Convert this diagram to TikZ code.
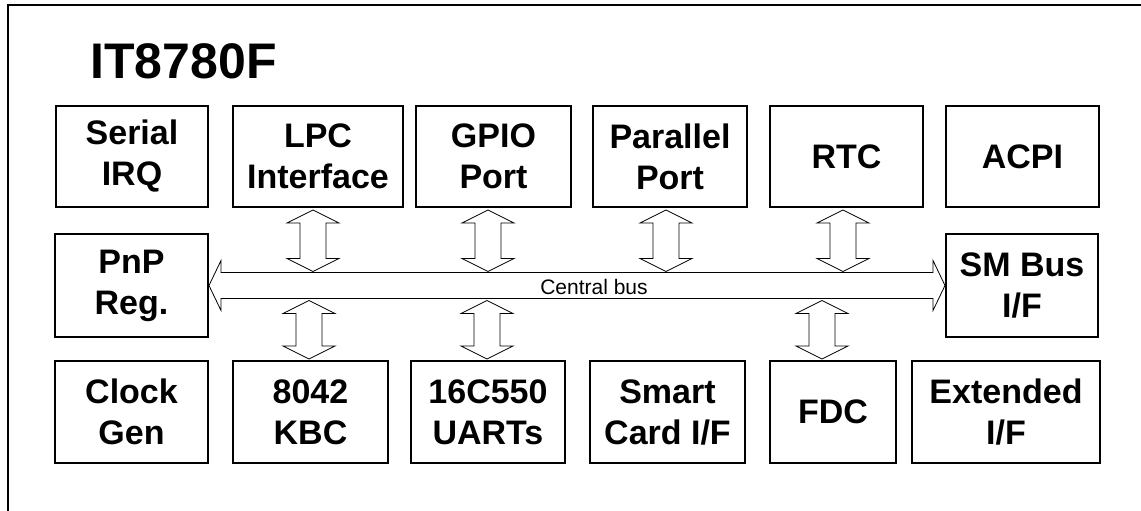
\documentclass[tikz,border=0pt]{standalone}
\usepackage{fontspec}
\setmainfont{Liberation Sans}
\usetikzlibrary{calc,positioning}

\tikzset{
    block/.style={draw, line width=2pt, inner sep=0pt, align=center,
        font=\fontsize{34}{41}\selectfont\bfseries},
    linkarrow/.style={draw, line width=0.8pt, line join=miter}
}
% upright double arrow: x, upper anchor, lower anchor
\newcommand{\vlink}[3]{%
    \draw[linkarrow] let \p1=#2, \p2=#3 in
        (#1pt,\y1-2pt) -- ++(26pt,-13pt) -- ++(-13pt,0pt)
        -- (#1pt+13pt,\y2+14pt) -- ++(13pt,0pt) -- (#1pt,\y2+1pt)
        -- ++(-26pt,13pt) -- ++(13pt,0pt)
        -- (#1pt-13pt,\y1-15pt) -- ++(-13pt,0pt) -- cycle;}

\begin{document}
\begin{tikzpicture}[x=1pt, y=-1pt]
    \useasboundingbox (0,0) rectangle (1141,511);
    \clip (0,0) rectangle (1141,511);
    \draw[line width=2pt] (8,5) rectangle (1170,540);
    \node[anchor=base west, font=\fontsize{50}{60}\selectfont\bfseries] (title) at (87,79) {IT8780F};

    % top row
    \node[block, minimum width=152pt, minimum height=101pt] (sirq) at (132,156.5) {Serial\\IRQ};
    \node[block, minimum width=170pt, minimum height=101pt] (lpc) at (318,156.5) {LPC\\Interface};
    \node[block, minimum width=155pt, minimum height=101pt] (gpio) at (493.5,156.5) {GPIO\\Port};
    \node[block, minimum width=154pt, minimum height=101pt] (ppt) at (670,156.5) {Parallel\\Port};
    \node[block, minimum width=153pt, minimum height=101pt] (rtc) at (846.5,156.5) {RTC};
    \node[block, minimum width=153pt, minimum height=101pt] (acpi) at (1022.5,156.5) {ACPI};
    % middle row
    \node[block, minimum width=153pt, minimum height=103pt] (pnp) at (131.5,285.5) {PnP\\Reg.};
    \node[block, minimum width=152pt, minimum height=103pt] (smb) at (1022,285.5) {SM Bus\\I/F};
    % bottom row
    \node[block, minimum width=153pt, minimum height=102pt] (clk) at (131.5,412) {Clock\\Gen};
    \node[block, minimum width=155pt, minimum height=102pt] (kbc) at (310.5,412) {8042\\KBC};
    \node[block, minimum width=154pt, minimum height=102pt] (uart) at (488,412) {16C550\\UARTs};
    \node[block, minimum width=155pt, minimum height=102pt] (scard) at (667.5,412) {Smart\\Card I/F};
    \node[block, minimum width=126pt, minimum height=102pt] (fdc) at (833,412) {FDC};
    \node[block, minimum width=188pt, minimum height=102pt] (ext) at (1006,412) {Extended\\I/F};

    % central bus
    \draw[linkarrow] let \p1=(pnp.east), \p2=(smb.west) in
        (\x1,\y1) -- ++(12pt,25pt) -- ++(0pt,-12pt) -- (\x2-12pt,\y1+13pt)
        -- ++(0pt,12pt) -- (\x2,\y1) -- ++(-12pt,-25pt) -- ++(0pt,12pt)
        -- (\x1+12pt,\y1-13pt) -- ++(0pt,-12pt) -- cycle;
    \coordinate (busN) at ($(pnp.east)+(0,-13)$);
    \coordinate (busS) at ($(pnp.east)+(0,13)$);
    \node[anchor=base, font=\fontsize{21}{25}\selectfont] (bus) at (594,294) {Central bus};

    \vlink{313}{(lpc.south)}{(busN)}
    \vlink{488}{(gpio.south)}{(busN)}
    \vlink{666}{(ppt.south)}{(busN)}
    \vlink{843}{(rtc.south)}{(busN)}
    \vlink{309}{(busS)}{(kbc.north)}
    \vlink{487}{(busS)}{(uart.north)}
    \vlink{822}{(busS)}{(fdc.north)}
\end{tikzpicture}
\end{document}
